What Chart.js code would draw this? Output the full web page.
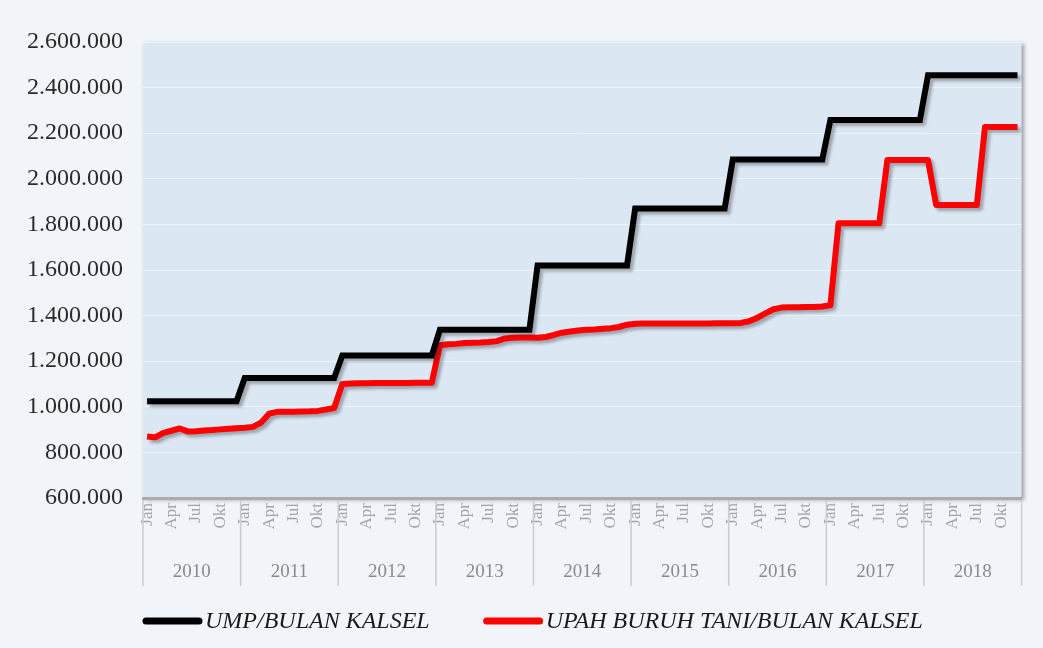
<!DOCTYPE html>
<html>
<head>
<meta charset="utf-8">
<script src="https://cdn.jsdelivr.net/npm/chart.js@4"></script>
<style>
  html, body { margin: 0; padding: 0; background: #f1f4f8; }
  #wrap { width: 1043px; height: 648px; }
</style>
</head>
<body>
<div id="wrap"><canvas id="chart" width="1043" height="648"></canvas></div>
<script>
// Monthly series, Jan 2010 .. Des 2018
const months = ['Jan','Feb','Mar','Apr','Mei','Jun','Jul','Agu','Sep','Okt','Nov','Des'];
const years = ['2010','2011','2012','2013','2014','2015','2016','2017','2018'];

// UMP Kalsel, one value per year (constant through the year)
const umpPerYear = [1024500, 1126000, 1225000, 1337500, 1620000, 1870000, 2085050, 2258000, 2454671];

// Upah buruh tani per month
const upahTani = [
  870000, 866000, 886000, 895000, 905000, 892000, 893000, 896000, 898000, 901000, 904000, 906000,        // 2010
  908000, 912000, 930000, 970000, 978000, 978000, 978000, 979000, 980000, 982000, 988000, 995000,        // 2011
  1100000, 1102000, 1103000, 1103000, 1104000, 1104000, 1104000, 1104000, 1104000, 1105000, 1105000, 1105000, // 2012
  1270000, 1274000, 1276000, 1280000, 1281000, 1282000, 1284000, 1288000, 1300000, 1303000, 1304000, 1304000, // 2013
  1303000, 1306000, 1315000, 1325000, 1330000, 1335000, 1338000, 1339000, 1342000, 1345000, 1350000, 1360000, // 2014
  1364000, 1365000, 1365000, 1365000, 1365000, 1365000, 1365000, 1365000, 1365000, 1365000, 1366000, 1366000, // 2015
  1366000, 1368000, 1375000, 1390000, 1410000, 1428000, 1435000, 1437000, 1437000, 1438000, 1438000, 1440000, // 2016
  1445000, 1805000, 1805000, 1805000, 1805000, 1805000, 1805000, 2082000, 2082000, 2082000, 2082000, 2082000, // 2017
  2082000, 1885000, 1885000, 1885000, 1885000, 1885000, 1885000, 2227000, 2227000, 2227000, 2227000, 2227000  // 2018
];

const yTicks = { min: 600000, max: 2600000, step: 200000 };

const labels = [];
const umpMonthly = [];
years.forEach((y, yi) => months.forEach(m => { labels.push(m); umpMonthly.push(umpPerYear[yi]); }));

const fmt = v => String(v).replace(/\B(?=(\d{3})+(?!\d))/g, '.');
const SERIF = "'Liberation Serif', 'Times New Roman', serif";

// plot background, year row, line shadows, legend
const decor = {
  id: 'decor',
  beforeDraw(chart) {
    const { ctx, chartArea: a } = chart;
    ctx.save();
    ctx.fillStyle = '#f1f4f8';
    ctx.fillRect(0, 0, chart.width, chart.height);
    // plot area with a soft shadow on the right
    ctx.shadowColor = 'rgba(0,0,0,0.35)';
    ctx.shadowBlur = 4;
    ctx.shadowOffsetX = 2;
    ctx.shadowOffsetY = 2;
    ctx.fillStyle = '#dce7f4';
    ctx.fillRect(a.left, a.top, a.right - a.left, a.bottom - a.top);
    ctx.restore();
  },
  beforeDatasetDraw(chart) {
    const ctx = chart.ctx;
    ctx.save();
    ctx.shadowColor = 'rgba(40,40,40,0.35)';
    ctx.shadowBlur = 3;
    ctx.shadowOffsetX = 3;
    ctx.shadowOffsetY = 3;
  },
  afterDatasetDraw(chart) {
    chart.ctx.restore();
  },
  afterDraw(chart) {
    const { ctx, chartArea: a } = chart;
    const x = chart.scales.x;
    const half = (x.getPixelForValue(1) - x.getPixelForValue(0)) / 2;
    ctx.save();
    // year separators + year labels
    ctx.strokeStyle = '#c9ccd1';
    ctx.lineWidth = 1.5;
    ctx.fillStyle = '#8a8a8a';
    ctx.font = '19px ' + SERIF;
    ctx.textAlign = 'center';
    ctx.textBaseline = 'middle';
    for (let i = 0; i <= years.length; i++) {
      const px = i < years.length ? x.getPixelForValue(i * 12) - half : x.getPixelForValue(labels.length - 1) + half;
      ctx.beginPath();
      ctx.moveTo(px, a.bottom + 2);
      ctx.lineTo(px, a.bottom + 88);
      ctx.stroke();
      if (i < years.length) {
        const px2 = x.getPixelForValue(i * 12 + 11) + half;
        ctx.fillText(years[i], (px + px2) / 2, a.bottom + 74);
      }
    }
    // legend
    const ly = 621;
    ctx.font = 'italic 24px ' + SERIF;
    ctx.textAlign = 'left';
    let cx = 143;
    chart.data.datasets.forEach(ds => {
      ctx.strokeStyle = ds.borderColor;
      ctx.lineWidth = 7;
      ctx.lineCap = 'round';
      ctx.beginPath();
      ctx.moveTo(cx + 3, ly);
      ctx.lineTo(cx + 56, ly);
      ctx.stroke();
      ctx.fillStyle = '#1a1a1a';
      ctx.fillText(ds.label, cx + 62, ly + 1);
      cx += 62 + ctx.measureText(ds.label).width + 54;
    });
    ctx.restore();
  }
};

new Chart(document.getElementById('chart'), {
  type: 'line',
  data: {
    labels,
    datasets: [
      { label: 'UMP/BULAN KALSEL', data: umpMonthly, borderColor: '#000000', backgroundColor: '#000000', borderWidth: 6, pointRadius: 0, tension: 0, borderJoinStyle: 'miter' },
      { label: 'UPAH BURUH TANI/BULAN KALSEL', data: upahTani, borderColor: '#ff0000', backgroundColor: '#ff0000', borderWidth: 6, pointRadius: 0, tension: 0, borderJoinStyle: 'round' }
    ]
  },
  options: {
    responsive: false,
    animation: false,
    layout: { padding: { top: 42, right: 21, left: 0, bottom: 60 } },
    plugins: { legend: { display: false }, tooltip: { enabled: false } },
    scales: {
      x: {
        offset: true,
        grid: { display: false, drawTicks: false },
        border: { color: '#a9abae', width: 3 },
        ticks: {
          autoSkip: false, maxRotation: 90, minRotation: 90, padding: 5,
          color: '#a2a4a8', font: { family: SERIF, size: 17 },
          callback(v, i) { return i % 3 === 0 ? this.getLabelForValue(v) : ''; }
        },
        afterFit(s) { s.height = 90; }
      },
      y: {
        min: yTicks.min, max: yTicks.max,
        grid: { color: 'rgba(255,255,255,0.55)', lineWidth: 1, drawTicks: false },
        border: { display: false },
        ticks: { stepSize: yTicks.step, padding: 20, color: '#2b2b2b', font: { family: SERIF, size: 24 }, callback: v => fmt(v) },
        afterFit(s) { s.width = 143; }
      }
    }
  },
  plugins: [decor]
});
</script>
</body>
</html>
